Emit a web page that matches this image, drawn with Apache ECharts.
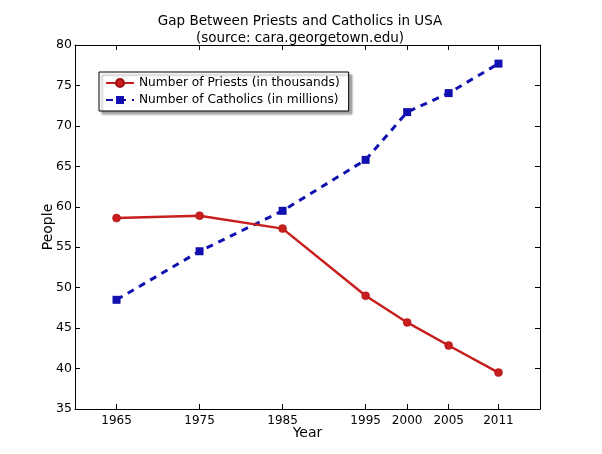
<!DOCTYPE html>
<html lang="en">
<head>
    <meta charset="UTF-8">
    <title>echarts</title>
    <script src="https://cdn.jsdelivr.net/npm/echarts/dist/echarts.min.js"></script>
</head>
<body style="margin:0;background:#fff;">
<div id="main" style="width: 602px;height:454px;"></div>
<script type="text/javascript">
    // data
    var years = [1965, 1975, 1985, 1995, 2000, 2005, 2011];
    var priests = [58.6, 58.9, 57.3, 49.0, 45.7, 42.85, 39.5];
    var catholics = [48.5, 54.5, 59.5, 65.8, 71.7, 74.05, 77.7];
    var yearTicks = [1965, 1975, 1985, 1995, 2000, 2005, 2011];

    function pairs(xs, ys) {
        return xs.map(function (x, i) { return [x, ys[i]]; });
    }

    var chart = echarts.init(document.getElementById('main'));
    var font = 'DejaVu Sans';
    var axisCol = '#000';

    chart.setOption({
        animation: false,
        textStyle: { fontFamily: font },
        title: {
            text: 'Gap Between Priests and Catholics in USA\n(source: cara.georgetown.edu)',
            left: 295, top: 8,
            textAlign: 'center',
            textStyle: { fontFamily: font, fontSize: 13.5, fontWeight: 'normal', color: '#000', lineHeight: 17 }
        },
        legend: {
            orient: 'vertical',
            left: 99, top: 72,
            padding: [5, 9, 5, 6],
            itemGap: 5,
            itemWidth: 28,
            itemHeight: 10,
            backgroundColor: '#fff',
            borderColor: '#000',
            borderWidth: 1,
            borderRadius: 0,
            shadowColor: 'rgba(0,0,0,0.35)',
            shadowOffsetX: 3,
            shadowOffsetY: 3,
            shadowBlur: 2,
            textStyle: { fontFamily: font, fontSize: 12.2, color: '#000' },
            data: ['Number of Priests (in thousands)', 'Number of Catholics (in millions)']
        },
        grid: { left: 75, right: 62, top: 45, bottom: 45 },
        xAxis: [{
            type: 'value', min: 1960, max: 2016,
            name: 'Year', nameLocation: 'middle', nameGap: 17, nameMoveOverlap: false,
            nameTextStyle: { fontFamily: font, fontSize: 14, color: '#000', verticalAlign: 'top' },
            axisLine: { lineStyle: { color: axisCol, width: 1 } },
            axisTick: { inside: true, length: 5, customValues: yearTicks, lineStyle: { color: axisCol } },
            axisLabel: {
                customValues: yearTicks, color: '#000', fontSize: 12, margin: 6,
                formatter: function (v) { return String(v); }
            },
            splitLine: { show: false }
        }, {
            type: 'value', min: 1960, max: 2016, position: 'top',
            axisLine: { show: true, lineStyle: { color: axisCol, width: 1 } },
            axisTick: { inside: true, length: 5, customValues: yearTicks, lineStyle: { color: axisCol } },
            axisLabel: { show: false },
            splitLine: { show: false }
        }],
        yAxis: [{
            type: 'value', min: 35, max: 80, interval: 5,
            name: 'People', nameLocation: 'middle', nameGap: 20, nameRotate: 90, nameMoveOverlap: false,
            nameTextStyle: { fontFamily: font, fontSize: 14, color: '#000' },
            axisLine: { show: true, lineStyle: { color: axisCol, width: 1 } },
            axisTick: { show: true, inside: true, length: 5, lineStyle: { color: axisCol } },
            axisLabel: { color: '#000', fontSize: 12.5, margin: 3 },
            splitLine: { show: false }
        }, {
            type: 'value', min: 35, max: 80, interval: 5, position: 'right',
            axisLine: { show: true, lineStyle: { color: axisCol, width: 1 } },
            axisTick: { show: true, inside: true, length: 5, lineStyle: { color: axisCol } },
            axisLabel: { show: false },
            splitLine: { show: false }
        }],
        series: [{
            name: 'Number of Priests (in thousands)',
            type: 'line',
            data: pairs(years, priests),
            symbol: 'circle',
            symbolSize: 8,
            itemStyle: { color: '#c81e1e', borderColor: '#a01010', borderWidth: 0.5 },
            lineStyle: { color: '#c81e1e', width: 2.5 },
            z: 3
        }, {
            name: 'Number of Catholics (in millions)',
            type: 'line',
            data: pairs(years, catholics),
            symbol: 'rect',
            symbolSize: 8,
            itemStyle: { color: '#1010b0' },
            lineStyle: { color: '#1010b0', width: 3, type: [7, 6] },
            z: 2
        }]
    });
</script>
</body>
</html>
